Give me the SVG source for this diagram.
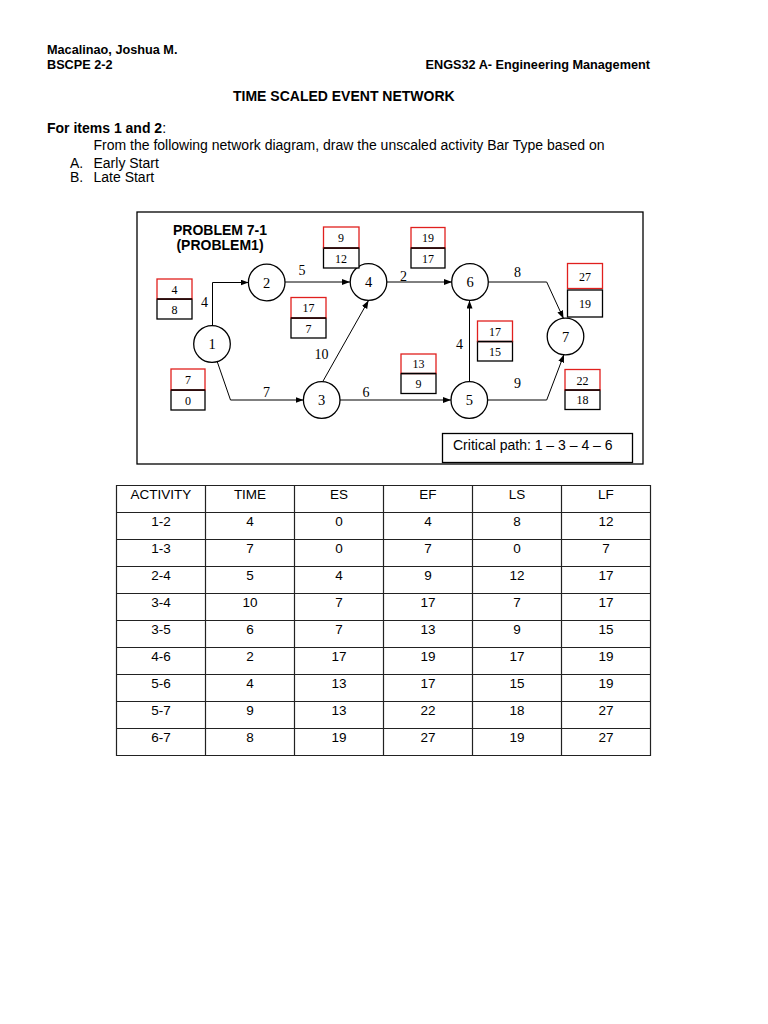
<svg xmlns="http://www.w3.org/2000/svg" width="768" height="1024" viewBox="0 0 768 1024">
<style>
  .sans { font-family: "Liberation Sans", Arial, sans-serif; fill:#000; }
  .hb { font-family: "Liberation Sans", Arial, sans-serif; font-weight:bold; font-size:12.7px; }
  .node circle { fill:#fff; stroke:#000; stroke-width:1.3; }
  .node text { font-family: "Liberation Serif", "Times New Roman", serif; font-size:14.5px; text-anchor:middle; }
  .edge { fill:none; stroke:#000; stroke-width:1; marker-end:url(#arr); }
  .elab { font-family: "Liberation Serif", "Times New Roman", serif; font-size:14px; text-anchor:middle; }
  .rt { fill:#fff; stroke:#e0201e; stroke-width:1.3; }
  .bk { fill:#fff; stroke:#000; stroke-width:1.3; }
  .bn { font-family: "Liberation Serif", "Times New Roman", serif; font-size:12px; text-anchor:middle; }
  .tbl line { stroke:#222; stroke-width:1.2; }
  .tt { font-family: "Liberation Sans", Arial, sans-serif; font-size:13.5px; text-anchor:middle; }
</style>
<defs>
  <marker id="arr" markerWidth="9" markerHeight="7" refX="8" refY="3" orient="auto" markerUnits="userSpaceOnUse">
    <path d="M0,0 L8,3 L0,6 z" fill="#000"/>
  </marker>
</defs>
<rect width="768" height="1024" fill="#fff"/>

<g id="header">
  <text class="hb" x="47" y="54">Macalinao, Joshua M.</text>
  <text class="hb" x="47" y="68.5">BSCPE 2-2</text>
  <text class="hb" x="650" y="68.5" text-anchor="end">ENGS32 A- Engineering Management</text>
  <text class="sans" x="233" y="100.7" font-size="14px" font-weight="bold">TIME SCALED EVENT NETWORK</text>
  <text class="sans" x="47" y="133.3" font-size="14px"><tspan font-weight="bold">For items 1 and 2</tspan>:</text>
  <text class="sans" x="93.5" y="150" font-size="14px">From the following network diagram, draw the unscaled activity Bar Type based on</text>
  <text class="sans" x="70" y="167.7" font-size="14px">A.</text>
  <text class="sans" x="93.5" y="167.7" font-size="14px">Early Start</text>
  <text class="sans" x="70" y="181.7" font-size="14px">B.</text>
  <text class="sans" x="93.5" y="181.7" font-size="14px">Late Start</text>
</g>

<g id="frame">
  <rect x="137" y="212" width="506" height="252" fill="none" stroke="#000" stroke-width="1.3"/>
  <text class="sans" x="220" y="234.5" font-size="14px" font-weight="bold" text-anchor="middle">PROBLEM 7-1</text>
  <text class="sans" x="220" y="249.5" font-size="14px" font-weight="bold" text-anchor="middle">(PROBLEM1)</text>
</g>

<g id="connectors">
  <path class="edge" d="M212.5,326 L212.5,282.5 L248.5,282.5"/>
  <path class="edge" d="M217,361 L230.5,400 L303.5,400"/>
  <path class="edge" d="M285,282 L350,282"/>
  <path class="edge" d="M322.7,381.7 L368.5,300.5"/>
  <path class="edge" d="M340,400 L451,400"/>
  <path class="edge" d="M387,282 L452,282"/>
  <path class="edge" d="M469.5,382 L469.5,300.5"/>
  <path class="edge" d="M488,282 L546.7,282 L563.5,318.5"/>
  <path class="edge" d="M487.5,400 L546.7,400 L564,354.5"/>
  <text class="elab" x="302" y="275">5</text>
  <text class="elab" x="204.5" y="307">4</text>
  <text class="elab" x="403.5" y="280.5">2</text>
  <text class="elab" x="517.5" y="277">8</text>
  <text class="elab" x="321.5" y="359">10</text>
  <text class="elab" x="266.5" y="397">7</text>
  <text class="elab" x="366" y="397">6</text>
  <text class="elab" x="459.5" y="349">4</text>
  <text class="elab" x="517.5" y="388">9</text>
</g>

<g id="node1" class="node"><circle cx="212" cy="344" r="18.3"/><text x="212" y="349">1</text></g>
<g id="node2" class="node"><circle cx="266.7" cy="282.5" r="18.3"/><text x="266.7" y="287.5">2</text></g>
<g id="node3" class="node"><circle cx="321.7" cy="400" r="18.3"/><text x="321.7" y="405">3</text></g>
<g id="node4" class="node"><circle cx="368.5" cy="282" r="18.3"/><text x="368.5" y="287">4</text></g>
<g id="node5" class="node"><circle cx="469.3" cy="400" r="18.3"/><text x="469.3" y="405">5</text></g>
<g id="node6" class="node"><circle cx="470" cy="282" r="18.3"/><text x="470" y="287">6</text></g>
<g id="node7" class="node"><circle cx="565.5" cy="336.5" r="18.3"/><text x="565.5" y="341.5">7</text></g>

<g id="box12">
  <rect class="bk" x="157" y="299" width="35" height="20"/><rect class="rt" x="157" y="279" width="35" height="20"/>
  <line x1="157" y1="299" x2="192" y2="299" stroke="#000" stroke-width="1.5"/>
  <text class="bn" x="174.5" y="293.5">4</text><text class="bn" x="174.5" y="313.5">8</text>
</g>
<g id="box13">
  <rect class="bk" x="171" y="390" width="34" height="20"/><rect class="rt" x="171" y="369" width="34" height="21"/>
  <line x1="171" y1="390" x2="205" y2="390" stroke="#000" stroke-width="1.5"/>
  <text class="bn" x="188" y="384">7</text><text class="bn" x="188" y="404.5">0</text>
</g>
<g id="box24">
  <rect class="bk" x="323.5" y="248" width="35.5" height="20"/><rect class="rt" x="323.5" y="227" width="35.5" height="21"/>
  <line x1="323.5" y1="248" x2="359" y2="248" stroke="#000" stroke-width="1.5"/>
  <text class="bn" x="341" y="242">9</text><text class="bn" x="341" y="262.5">12</text>
</g>
<g id="box34">
  <rect class="bk" x="291" y="318" width="35" height="20"/><rect class="rt" x="291" y="297.5" width="35" height="20.5"/>
  <line x1="291" y1="318" x2="326" y2="318" stroke="#000" stroke-width="1.5"/>
  <text class="bn" x="308.5" y="312">17</text><text class="bn" x="308.5" y="332.5">7</text>
</g>
<g id="box46">
  <rect class="bk" x="411" y="248" width="34" height="20"/><rect class="rt" x="411" y="227.5" width="34" height="20.5"/>
  <line x1="411" y1="248" x2="445" y2="248" stroke="#000" stroke-width="1.5"/>
  <text class="bn" x="428" y="242">19</text><text class="bn" x="428" y="262.5">17</text>
</g>
<g id="box56">
  <rect class="bk" x="477.5" y="341.5" width="35" height="19.5"/><rect class="rt" x="477.5" y="321" width="35" height="20.5"/>
  <line x1="477.5" y1="341.5" x2="512.5" y2="341.5" stroke="#000" stroke-width="1.5"/>
  <text class="bn" x="495" y="335.5">17</text><text class="bn" x="495" y="355.5">15</text>
</g>
<g id="box35">
  <rect class="bk" x="401" y="373.5" width="35" height="20"/><rect class="rt" x="401" y="354" width="35" height="19.5"/>
  <line x1="401" y1="373.5" x2="436" y2="373.5" stroke="#000" stroke-width="1.5"/>
  <text class="bn" x="418.5" y="368">13</text><text class="bn" x="418.5" y="388">9</text>
</g>
<g id="box67">
  <rect class="rt" x="567.5" y="263.5" width="35" height="25"/>
  <rect class="bk" x="567.5" y="290" width="35" height="27"/>
  <text class="bn" x="585" y="280.5">27</text><text class="bn" x="585" y="307.5">19</text>
</g>
<g id="box57">
  <rect class="bk" x="565" y="390" width="35" height="19.5"/><rect class="rt" x="565" y="369.5" width="35" height="20.5"/>
  <line x1="565" y1="390" x2="600" y2="390" stroke="#000" stroke-width="1.5"/>
  <text class="bn" x="582.5" y="384.5">22</text><text class="bn" x="582.5" y="404">18</text>
</g>

<g id="critical-path">
  <rect x="442.5" y="433.5" width="190" height="29" fill="#fff" stroke="#000" stroke-width="1.3"/>
  <text class="sans" x="453" y="450" font-size="14px">Critical path: 1 – 3 – 4 – 6</text>
</g>

<g id="table">
  <g class="tbl">
    <line x1="116" y1="485.5" x2="651" y2="485.5"/>
    <line x1="116" y1="512.5" x2="651" y2="512.5"/>
    <line x1="116" y1="539.5" x2="651" y2="539.5"/>
    <line x1="116" y1="566.5" x2="651" y2="566.5"/>
    <line x1="116" y1="593.5" x2="651" y2="593.5"/>
    <line x1="116" y1="620.5" x2="651" y2="620.5"/>
    <line x1="116" y1="647.5" x2="651" y2="647.5"/>
    <line x1="116" y1="674.5" x2="651" y2="674.5"/>
    <line x1="116" y1="701.5" x2="651" y2="701.5"/>
    <line x1="116" y1="728.5" x2="651" y2="728.5"/>
    <line x1="116" y1="755.5" x2="651" y2="755.5"/>
    <line x1="116.5" y1="485" x2="116.5" y2="756"/>
    <line x1="205.5" y1="485" x2="205.5" y2="756"/>
    <line x1="294.5" y1="485" x2="294.5" y2="756"/>
    <line x1="383.5" y1="485" x2="383.5" y2="756"/>
    <line x1="472.5" y1="485" x2="472.5" y2="756"/>
    <line x1="561.5" y1="485" x2="561.5" y2="756"/>
    <line x1="650.5" y1="485" x2="650.5" y2="756"/>
  </g>
  <g class="tt">
    <text x="161" y="498.5">ACTIVITY</text><text x="250" y="498.5">TIME</text><text x="339" y="498.5">ES</text><text x="428" y="498.5">EF</text><text x="517" y="498.5">LS</text><text x="606" y="498.5">LF</text>
    <text x="161" y="525.5">1-2</text><text x="250" y="525.5">4</text><text x="339" y="525.5">0</text><text x="428" y="525.5">4</text><text x="517" y="525.5">8</text><text x="606" y="525.5">12</text>
    <text x="161" y="552.5">1-3</text><text x="250" y="552.5">7</text><text x="339" y="552.5">0</text><text x="428" y="552.5">7</text><text x="517" y="552.5">0</text><text x="606" y="552.5">7</text>
    <text x="161" y="579.5">2-4</text><text x="250" y="579.5">5</text><text x="339" y="579.5">4</text><text x="428" y="579.5">9</text><text x="517" y="579.5">12</text><text x="606" y="579.5">17</text>
    <text x="161" y="606.5">3-4</text><text x="250" y="606.5">10</text><text x="339" y="606.5">7</text><text x="428" y="606.5">17</text><text x="517" y="606.5">7</text><text x="606" y="606.5">17</text>
    <text x="161" y="633.5">3-5</text><text x="250" y="633.5">6</text><text x="339" y="633.5">7</text><text x="428" y="633.5">13</text><text x="517" y="633.5">9</text><text x="606" y="633.5">15</text>
    <text x="161" y="660.5">4-6</text><text x="250" y="660.5">2</text><text x="339" y="660.5">17</text><text x="428" y="660.5">19</text><text x="517" y="660.5">17</text><text x="606" y="660.5">19</text>
    <text x="161" y="687.5">5-6</text><text x="250" y="687.5">4</text><text x="339" y="687.5">13</text><text x="428" y="687.5">17</text><text x="517" y="687.5">15</text><text x="606" y="687.5">19</text>
    <text x="161" y="714.5">5-7</text><text x="250" y="714.5">9</text><text x="339" y="714.5">13</text><text x="428" y="714.5">22</text><text x="517" y="714.5">18</text><text x="606" y="714.5">27</text>
    <text x="161" y="741.5">6-7</text><text x="250" y="741.5">8</text><text x="339" y="741.5">19</text><text x="428" y="741.5">27</text><text x="517" y="741.5">19</text><text x="606" y="741.5">27</text>
  </g>
</g>
</svg>
